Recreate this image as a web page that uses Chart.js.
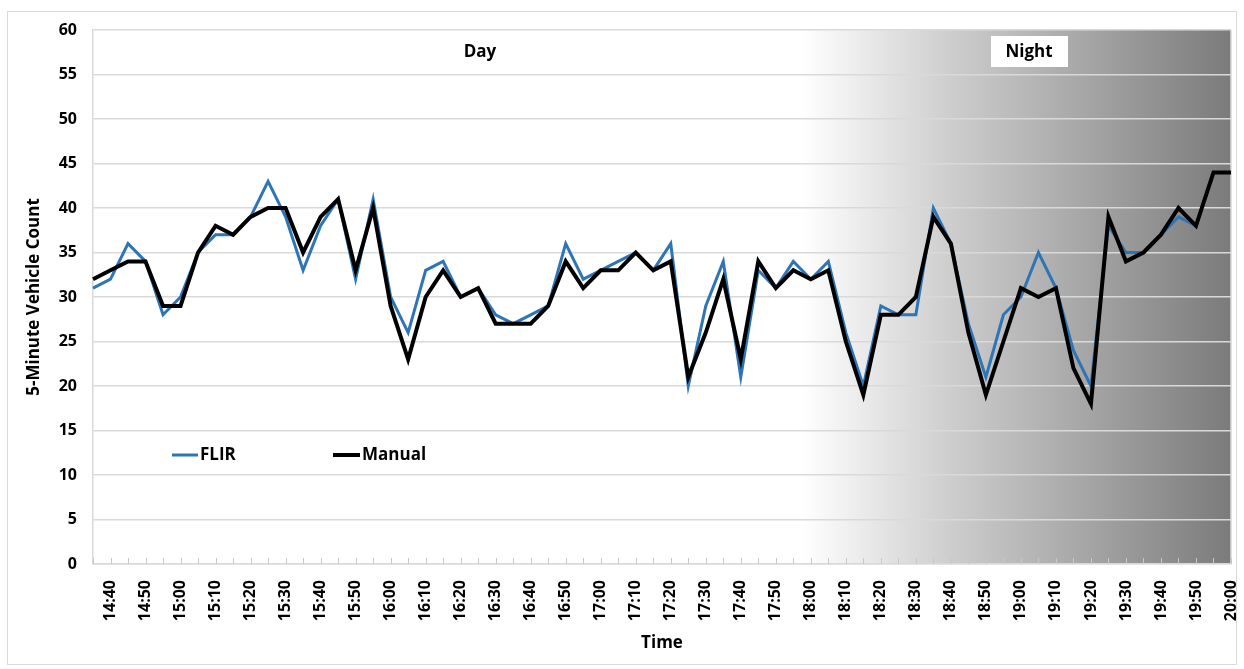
<!DOCTYPE html>
<html>
<head>
<meta charset="utf-8">
<script src="https://cdn.jsdelivr.net/npm/chart.js@4/dist/chart.umd.min.js"></script>
<style>
  html, body { margin: 0; padding: 0; background: #fff; }
  #wrap { width: 1244px; height: 669px; }
</style>
</head>
<body>
<div id="wrap"><canvas id="chart"></canvas></div>
<script>
// 5-minute bins, 14:35 .. 20:00
const timeLabels = [
    "14:35", "14:40", "14:45", "14:50", "14:55", "15:00", "15:05", "15:10", "15:15", "15:20",
    "15:25", "15:30", "15:35", "15:40", "15:45", "15:50", "15:55", "16:00", "16:05", "16:10",
    "16:15", "16:20", "16:25", "16:30", "16:35", "16:40", "16:45", "16:50", "16:55", "17:00",
    "17:05", "17:10", "17:15", "17:20", "17:25", "17:30", "17:35", "17:40", "17:45", "17:50",
    "17:55", "18:00", "18:05", "18:10", "18:15", "18:20", "18:25", "18:30", "18:35", "18:40",
    "18:45", "18:50", "18:55", "19:00", "19:05", "19:10", "19:15", "19:20", "19:25", "19:30",
    "19:35", "19:40", "19:45", "19:50", "19:55", "20:00"
];

const flirCounts = [
    31, 32, 36, 34, 28, 30, 35, 37, 37, 39,
    43, 39, 33, 38, 41, 32, 41, 30, 26, 33,
    34, 30, 31, 28, 27, 28, 29, 36, 32, 33,
    34, 35, 33, 36, 20, 29, 34, 21, 33, 31,
    34, 32, 34, 26, 20, 29, 28, 28, 40, 36,
    27, 21, 28, 30, 35, 31, 24, 20, 38, 35,
    35, 37, 39, 38, 44, 44
];

const manualCounts = [
    32, 33, 34, 34, 29, 29, 35, 38, 37, 39,
    40, 40, 35, 39, 41, 33, 40, 29, 23, 30,
    33, 30, 31, 27, 27, 27, 29, 34, 31, 33,
    33, 35, 33, 34, 21, 26, 32, 23, 34, 31,
    33, 32, 33, 25, 19, 28, 28, 30, 39, 36,
    26, 19, 25, 31, 30, 31, 22, 18, 39, 34,
    35, 37, 40, 38, 44, 44
];

const yTicks = { min: 0, max: 60, step: 5 };
const duskStart = "17:55";   // shading starts fading in here
const dayLabel = "Day";
const nightLabel = "Night";

const FONT = "'Open Sans', 'DejaVu Sans', sans-serif";
const GRID = "#d9d9d9";

// background, outer frame and the day/night shading
const shadePlugin = {
    id: "shade",
    beforeDraw(chart) {
        const { ctx, chartArea: a, scales } = chart;
        ctx.save();
        ctx.fillStyle = "#fff";
        ctx.fillRect(0, 0, chart.width, chart.height);
        ctx.strokeStyle = GRID;
        ctx.lineWidth = 1;
        ctx.strokeRect(7.5, 11.5, chart.width - 15, chart.height - 16);

        const x0 = scales.x.getPixelForValue(timeLabels.indexOf(duskStart)) + 8;
        const g = ctx.createLinearGradient(x0, 0, a.right, 0);
        g.addColorStop(0, "rgba(255,255,255,1)");
        g.addColorStop(0.35, "#cdcdcd");
        g.addColorStop(1, "#7b7b7b");
        ctx.fillStyle = g;
        ctx.fillRect(x0, a.top, a.right - x0, a.bottom - a.top);
        ctx.restore();
    },
    beforeDatasetsDraw(chart) {
        const { ctx, chartArea: a, scales } = chart;
        ctx.save();
        // right border of plot
        ctx.strokeStyle = GRID;
        ctx.lineWidth = 1.5;
        ctx.beginPath();
        ctx.moveTo(a.right, a.top);
        ctx.lineTo(a.right, a.bottom);
        ctx.stroke();
        // inward tick marks on the category axis
        ctx.lineWidth = 1;
        ctx.strokeStyle = "#c8c8c8";
        scales.x.ticks.forEach((t, i) => {
            const px = Math.round(scales.x.getPixelForTick(i)) + 0.5;
            ctx.beginPath();
            ctx.moveTo(px, a.bottom);
            ctx.lineTo(px, a.bottom - 6);
            ctx.stroke();
        });

        ctx.font = "bold 17px " + FONT;
        ctx.textAlign = "center";
        ctx.textBaseline = "middle";
        ctx.fillStyle = "#000";
        ctx.fillText(dayLabel, 480, 52);
        ctx.fillStyle = "#fff";
        ctx.fillRect(991, 36, 77, 31);
        ctx.fillStyle = "#000";
        ctx.fillText(nightLabel, 1029, 52);
        ctx.restore();
    },
    afterDatasetsDraw(chart) {
        // legend inside the plot area
        const { ctx } = chart;
        const spots = [{ x: 172, len: 26 }, { x: 333, len: 27 }];
        ctx.save();
        ctx.font = "bold 17px " + FONT;
        ctx.textBaseline = "middle";
        ctx.textAlign = "left";
        chart.data.datasets.forEach((ds, i) => {
            const s = spots[i];
            const y = 455;
            ctx.strokeStyle = ds.borderColor;
            ctx.lineWidth = ds.borderWidth;
            ctx.beginPath();
            ctx.moveTo(s.x, y);
            ctx.lineTo(s.x + s.len, y);
            ctx.stroke();
            ctx.fillStyle = "#000";
            ctx.fillText(ds.label, s.x + s.len + 2, y);
        });
        ctx.restore();
    }
};

new Chart(document.getElementById("chart"), {
    type: "line",
    data: {
        labels: timeLabels,
        datasets: [
            {
                label: "FLIR",
                data: flirCounts,
                borderColor: "#2e75b6",
                borderWidth: 3,
                pointRadius: 0,
                tension: 0,
                order: 2
            },
            {
                label: "Manual",
                data: manualCounts,
                borderColor: "#000000",
                borderWidth: 4,
                pointRadius: 0,
                tension: 0,
                order: 1
            }
        ]
    },
    options: {
        responsive: true,
        maintainAspectRatio: false,
        animation: false,
        devicePixelRatio: 1,
        layout: { padding: { left: 14, top: 30, right: 13, bottom: 16 } },
        plugins: {
            legend: { display: false },
            tooltip: { enabled: false }
        },
        scales: {
            x: {
                type: "category",
                offset: false,
                afterFit(scale) {
                    scale.height = 89;
                    scale.paddingLeft = 0;
                    scale.paddingRight = 0;
                },
                grid: { drawOnChartArea: false, drawTicks: false },
                border: { display: true, color: GRID, width: 1.5 },
                ticks: {
                    autoSkip: false,
                    minRotation: 90,
                    maxRotation: 90,
                    padding: 16,
                    color: "#000",
                    font: { family: FONT, size: 16, weight: "bold" },
                    callback(value, index) {
                        return index % 2 === 1 ? this.getLabelForValue(value) : "";
                    }
                },
                title: {
                    display: true,
                    text: "Time",
                    color: "#000",
                    padding: 0,
                    font: { family: FONT, size: 17, weight: "bold" }
                }
            },
            y: {
                min: yTicks.min,
                max: yTicks.max,
                afterFit(scale) {
                    scale.width = 79;
                    scale.paddingTop = 0;
                    scale.paddingBottom = 0;
                },
                grid: { color: GRID, lineWidth: 1.5, drawTicks: false },
                border: { display: true, color: GRID, width: 1.5 },
                ticks: {
                    stepSize: yTicks.step,
                    padding: 16,
                    color: "#000",
                    font: { family: FONT, size: 16, weight: "bold" }
                },
                title: {
                    display: true,
                    text: "5-Minute Vehicle Count",
                    color: "#000",
                    padding: { top: 10, bottom: 0 },
                    font: { family: FONT, size: 17, weight: "bold" }
                }
            }
        }
    },
    plugins: [shadePlugin]
});
</script>
</body>
</html>
